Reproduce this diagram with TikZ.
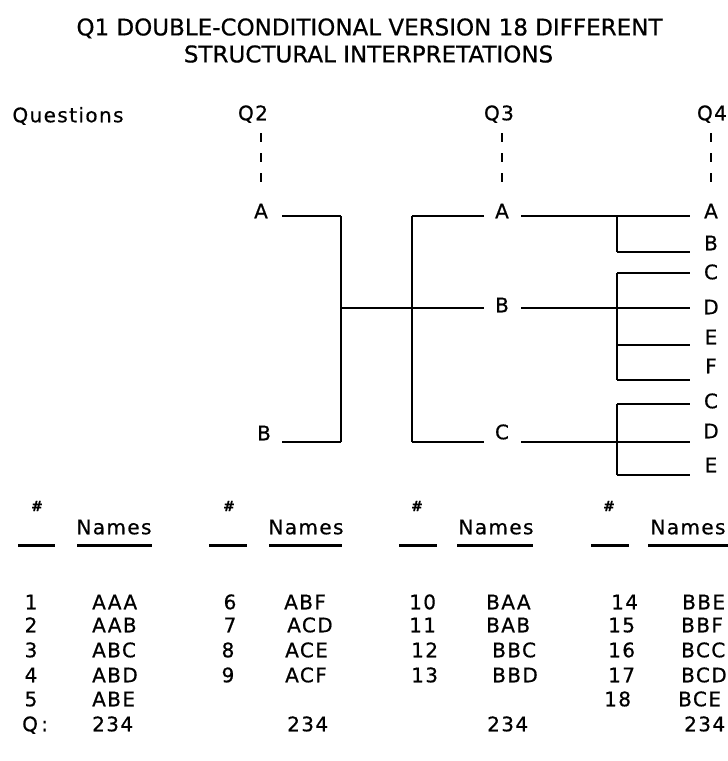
\documentclass[tikz,border=0pt]{standalone}
\usepackage{fontspec}
\setmainfont{DejaVu Sans}[FakeBold=0.6]
\begin{document}
\begin{tikzpicture}[x=1pt,y=-1pt,line join=miter]
\tikzset{
 lab/.style={font=\fontsize{20}{24}\selectfont\addfontfeature{LetterSpace=7}, inner sep=0pt, text height=14.5pt, text depth=0pt},
 ttl/.style={font=\fontsize{23}{27}\selectfont, inner sep=0pt, text height=16.8pt, text depth=0pt},
 hsh/.style={font=\fontsize{14}{16}\selectfont\bfseries, inner sep=0pt},
 cell/.style={lab, anchor=west},
 tree/.style={line width=2.9pt},
 treev/.style={line width=2.2pt},
 thinline/.style={line width=1.3pt},
 qdash/.style={line width=1.7pt, dash pattern=on 9pt off 11pt},
 uline/.style={line width=3pt},
}
\fill[white] (0,0) rectangle (728,761);
\path[use as bounding box] (0,0) rectangle (728,761);

% title
\node[ttl] (t1) at (369.5,27) {Q1 DOUBLE-CONDITIONAL VERSION 18 DIFFERENT};
\node[ttl] (t2) at (368.5,54) {STRUCTURAL INTERPRETATIONS};

% question headers
\node[lab] (qs) at (68,115) {Questions};
\node[lab] (q2) at (253,113) {Q2};
\node[lab] (q3) at (499,113) {Q3};
\node[lab] (q4) at (712,113) {Q4};

% Q2 level
\node[lab] (a2) at (261,211) {A};
\node[lab] (b2) at (264,433) {B};
% Q3 level
\node[lab] (a3) at (502,211) {A};
\node[lab] (b3) at (502,305) {B};
\node[lab] (c3) at (502,432) {C};
% Q4 level
\node[lab] (a4) at (711,211) {A};
\node[lab] (b4) at (711,243) {B};
\node[lab] (c4) at (711,272) {C};
\node[lab] (d4) at (711,307) {D};
\node[lab] (e4) at (711,337) {E};
\node[lab] (f4) at (711,366) {F};
\node[lab] (c4b) at (711,401) {C};
\node[lab] (d4b) at (711,431) {D};
\node[lab] (e4b) at (711,465) {E};

% dashed drops
\draw[qdash, shorten <=12.75pt, shorten >=20.75pt] (a2.north |- q2.south) -- (a2.north);
\draw[qdash, shorten <=12.75pt, shorten >=20.75pt] (a3.north |- q3.south) -- (a3.north);
\draw[qdash, shorten <=12.75pt, shorten >=20.75pt] (a4.north |- q4.south) -- (a4.north);

% junction coordinates
\coordinate (a2r) at (282,216);
\coordinate (j2a) at (341,216);
\coordinate (j2b) at (341,442);
\coordinate (b2r) at (282,442);
\coordinate (j2m) at (341,308);
\coordinate (b3l) at (484,308);
\coordinate (a3l) at (484,216);
\coordinate (j3a) at (412,216);
\coordinate (j3c) at (412,442);
\coordinate (c3l) at (484,442);
\coordinate (a3r) at (521,216);
\coordinate (b3r) at (521,308);
\coordinate (c3r) at (521,442);
\coordinate (a4l) at (690,216);
\coordinate (b4l) at (690,252);
\coordinate (c4l) at (690,273);
\coordinate (d4l) at (690,308);
\coordinate (e4l) at (690,345);
\coordinate (f4l) at (690,380);
\coordinate (c4bl) at (690,404);
\coordinate (d4bl) at (690,442);
\coordinate (e4bl) at (690,475);
\coordinate (kA) at (617,216);
\coordinate (kB) at (617,252);
\coordinate (kC) at (617,273);
\coordinate (kF) at (617,380);
\coordinate (kE) at (617,345);
\coordinate (kC2) at (617,404);
\coordinate (kE2) at (617,475);

% Q2 bracket
\draw[tree] (a2r) -- (j2a);
\draw[treev] (j2a) -- (j2b);
\draw[tree] (j2b) -- (b2r);
\draw[thinline] (j2m) -- (b3l);
% Q3 bracket
\draw[tree] (a3l) -- (j3a);
\draw[treev] (j3a) -- (j3c);
\draw[tree] (j3c) -- (c3l);
% Q3 -> Q4
\draw[tree] (a3r) -- (a4l);
\draw[treev] (kA) -- (kB);
\draw[tree] (kB) -- (b4l);
\draw[tree] (b3r) -- (d4l);
\draw[treev] (kC) -- (kF);
\draw[tree] (kC) -- (c4l);
\draw[tree] (kE) -- (e4l);
\draw[tree] (kF) -- (f4l);
\draw[tree] (c3r) -- (d4bl);
\draw[treev] (kC2) -- (kE2);
\draw[tree] (kC2) -- (c4bl);
\draw[tree] (kE2) -- (e4bl);

% table headers
\node[hsh] (h1) at (37,506) {\#};
\node[hsh] (h2) at (229,506) {\#};
\node[hsh] (h3) at (417,506) {\#};
\node[hsh] (h4) at (609,506) {\#};
\node[lab] (n1) at (114,527) {Names};
\node[lab] (n2) at (306,527) {Names};
\node[lab] (n3) at (496,527) {Names};
\node[lab] (n4) at (688,527) {Names};
\coordinate (u1a) at (18,545); \coordinate (u1b) at (55,545);
\coordinate (u2a) at (209,545); \coordinate (u2b) at (247,545);
\coordinate (u3a) at (399,545); \coordinate (u3b) at (437,545);
\coordinate (u4a) at (591,545); \coordinate (u4b) at (629,545);
\coordinate (v1a) at (77,545); \coordinate (v1b) at (152,545);
\coordinate (v2a) at (269,545); \coordinate (v2b) at (342,545);
\coordinate (v3a) at (457,545); \coordinate (v3b) at (533,545);
\coordinate (v4a) at (648,545); \coordinate (v4b) at (728,545);
\draw[uline] (u1a) -- (u1b); \draw[uline] (v1a) -- (v1b);
\draw[uline] (u2a) -- (u2b); \draw[uline] (v2a) -- (v2b);
\draw[uline] (u3a) -- (u3b); \draw[uline] (v3a) -- (v3b);
\draw[uline] (u4a) -- (u4b); \draw[uline] (v4a) -- (v4b);

% column 1
\node[lab] (r1) at (31,602) {1};
\node[lab] (r2) at (31,625) {2};
\node[lab] (r3) at (31,650) {3};
\node[lab] (r4) at (31,675) {4};
\node[lab] (r5) at (31,699) {5};
\node[cell] (rq) at (22,724) {Q\,:};
\node[cell] (s1) at (92,602) {AAA};
\node[cell] (s2) at (92,625) {AAB};
\node[cell] (s3) at (92,650) {ABC};
\node[cell] (s4) at (92,675) {ABD};
\node[cell] (s5) at (92,699) {ABE};
\node[cell] (sq1) at (92,724) {234};
% column 2
\node[lab] (r6) at (230,602) {6};
\node[lab] (r7) at (230,625) {7};
\node[lab] (r8) at (228,650) {8};
\node[lab] (r9) at (228,675) {9};
\node[cell] (s6) at (284,602) {ABF};
\node[cell] (s7) at (287,625) {ACD};
\node[cell] (s8) at (285,650) {ACE};
\node[cell] (s9) at (285,675) {ACF};
\node[cell] (sq2) at (287,724) {234};
% column 3
\node[cell] (r10) at (409,602) {10};
\node[cell] (r11) at (409,625) {11};
\node[cell] (r12) at (411,650) {12};
\node[cell] (r13) at (411,675) {13};
\node[cell] (s10) at (486,602) {BAA};
\node[cell] (s11) at (486,625) {BAB};
\node[cell] (s12) at (492,650) {BBC};
\node[cell] (s13) at (492,675) {BBD};
\node[cell] (sq3) at (487,724) {234};
% column 4
\node[cell] (r14) at (611,602) {14};
\node[cell] (r15) at (608,625) {15};
\node[cell] (r16) at (608,650) {16};
\node[cell] (r17) at (608,675) {17};
\node[cell] (r18) at (604,699) {18};
\node[cell] (s14) at (682,602) {BBE};
\node[cell] (s15) at (681,625) {BBF};
\node[cell] (s16) at (681,650) {BCC};
\node[cell] (s17) at (681,675) {BCD};
\node[cell] (s18) at (678,699) {BCE};
\node[cell] (sq4) at (684,724) {234};
\end{tikzpicture}
\end{document}
